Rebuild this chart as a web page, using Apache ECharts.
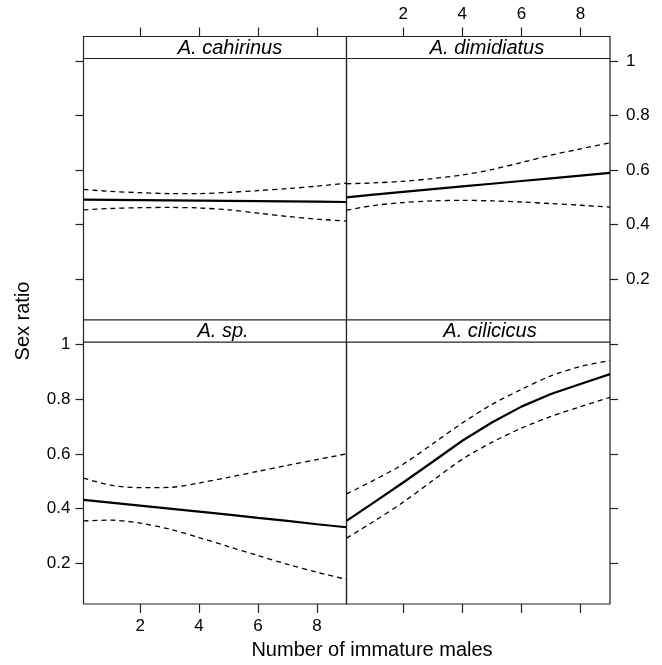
<!DOCTYPE html>
<html>
<head>
<meta charset="utf-8">
<script src="https://cdn.jsdelivr.net/npm/echarts@6/dist/echarts.min.js"></script>
<style>
html, body { margin: 0; padding: 0; background: #fff; }
#chart { width: 662px; height: 665px; }
</style>
</head>
<body>
<div id="chart"></div>
<script>
var xs = [0.08, 1, 2, 3, 4, 5, 6, 7, 8, 9];

var panels = ["A. cahirinus", "A. dimidiatus", "A. sp.", "A. cilicicus"];

// fitted sex ratio, upper and lower band, one array per panel
var cahFit = [0.492, 0.491, 0.490, 0.489, 0.488, 0.487, 0.486, 0.485, 0.484, 0.483];
var cahUp  = [0.529, 0.522, 0.517, 0.514, 0.514, 0.518, 0.525, 0.532, 0.541, 0.552];
var cahLo  = [0.454, 0.459, 0.462, 0.463, 0.461, 0.454, 0.442, 0.430, 0.420, 0.413];

var dimFit = [0.500, 0.510, 0.520, 0.530, 0.540, 0.550, 0.560, 0.570, 0.580, 0.590];
var dimUp  = [0.550, 0.553, 0.559, 0.569, 0.582, 0.602, 0.628, 0.655, 0.678, 0.700];
var dimLo  = [0.453, 0.470, 0.481, 0.487, 0.489, 0.487, 0.483, 0.477, 0.471, 0.464];

var spFit = [0.431, 0.421, 0.410, 0.399, 0.388, 0.377, 0.365, 0.354, 0.342, 0.331];
var spUp  = [0.511, 0.485, 0.476, 0.477, 0.493, 0.514, 0.536, 0.558, 0.579, 0.600];
var spLo  = [0.354, 0.357, 0.346, 0.324, 0.293, 0.260, 0.227, 0.195, 0.166, 0.140];

var cilFit = [0.354, 0.421, 0.495, 0.571, 0.648, 0.715, 0.773, 0.819, 0.856, 0.892];
var cilUp  = [0.453, 0.503, 0.562, 0.637, 0.713, 0.781, 0.836, 0.886, 0.920, 0.942];
var cilLo  = [0.291, 0.352, 0.423, 0.502, 0.580, 0.642, 0.694, 0.737, 0.773, 0.807];

var xTicks = [2, 4, 6, 8];
var yTicks = [0.2, 0.4, 0.6, 0.8, 1];

var panelData = [
    [cahFit, cahUp, cahLo],
    [dimFit, dimUp, dimLo],
    [spFit, spUp, spLo],
    [cilFit, cilUp, cilLo]
];

var font = "Liberation Sans, Arial, Helvetica, sans-serif";
var ink = "#222";

var grids = [
    { left: 83.5, top: 58.5, width: 263, height: 261.5 },
    { left: 346.5, top: 58.5, width: 263.5, height: 261.5 },
    { left: 83.5, top: 342, width: 263, height: 262 },
    { left: 346.5, top: 342, width: 263.5, height: 262 }
];
var stripH = 22;

function pairs(ys) {
    return xs.map(function(x, i) { return [x, ys[i]]; });
}

// lattice style: alternating labels, ticks on all outer sides
var xPos = ["top", "top", "bottom", "bottom"];
var xLab = [false, true, true, false];
var yPos = ["left", "right", "left", "right"];
var yLab = [false, true, true, false];

var xAxes = [], yAxes = [], series = [], graphics = [];

grids.forEach(function(g, i) {
    g.show = true;
    g.borderColor = ink;
    g.borderWidth = 1.2;
    g.backgroundColor = "transparent";

    xAxes.push({
        gridIndex: i,
        type: "value",
        min: 0.08,
        max: 9,
        position: xPos[i],
        offset: xPos[i] === "top" ? stripH : 0,
        axisLine: { show: false },
        splitLine: { show: false },
        axisTick: { show: true, length: 9, customValues: xTicks, lineStyle: { color: ink, width: 1.2 } },
        axisLabel: { show: xLab[i], customValues: xTicks, margin: 14, color: "#000", fontSize: 17, fontFamily: font }
    });
    yAxes.push({
        gridIndex: i,
        type: "value",
        min: 0.0496,
        max: 1.0099,
        position: yPos[i],
        axisLine: { show: false },
        splitLine: { show: false },
        axisTick: { show: true, length: 8, customValues: yTicks, lineStyle: { color: ink, width: 1.2 } },
        axisLabel: { show: yLab[i], customValues: yTicks, margin: yPos[i] === "left" ? 13 : 16, color: "#000", fontSize: 17, fontFamily: font }
    });

    var d = panelData[i];
    series.push({
        type: "line", xAxisIndex: i, yAxisIndex: i, data: pairs(d[0]),
        showSymbol: false, silent: true,
        lineStyle: { color: "#000", width: 2.2 }
    });
    [1, 2].forEach(function(k) {
        series.push({
            type: "line", xAxisIndex: i, yAxisIndex: i, data: pairs(d[k]),
            showSymbol: false, silent: true, smooth: 0.3,
            lineStyle: { color: "#000", width: 1.3, type: [5, 4] }
        });
    });

    // strip above each panel
    graphics.push({
        type: "rect",
        shape: { x: g.left, y: g.top - stripH, width: g.width, height: stripH },
        style: { fill: "#fff", stroke: ink, lineWidth: 1.2 }
    });
});

var stripText = [
    { x: 230, y: 48 },
    { x: 487, y: 48 },
    { x: 223, y: 331 },
    { x: 490, y: 331 }
];
stripText.forEach(function(p, i) {
    graphics.push({
        type: "text", x: p.x, y: p.y,
        style: { text: panels[i], fill: "#000", font: "italic 20px " + font, align: "center", verticalAlign: "middle" }
    });
});

graphics.push({
    type: "text", x: 23, y: 321, rotation: Math.PI / 2,
    style: { text: "Sex ratio", fill: "#000", font: "20px " + font, align: "center", verticalAlign: "middle" }
});
graphics.push({
    type: "text", x: 372, y: 650,
    style: { text: "Number of immature males", fill: "#000", font: "20px " + font, align: "center", verticalAlign: "middle" }
});

var chart = echarts.init(document.getElementById("chart"));
chart.setOption({
    animation: false,
    backgroundColor: "#fff",
    grid: grids,
    xAxis: xAxes,
    yAxis: yAxes,
    series: series,
    graphic: graphics
});
</script>
</body>
</html>
